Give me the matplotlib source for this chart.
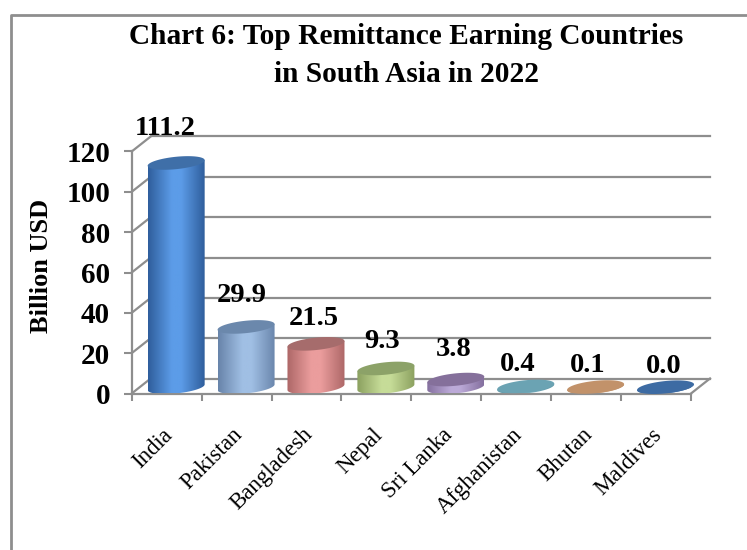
import numpy as np
import matplotlib
matplotlib.use("Agg")
import matplotlib.pyplot as plt
from matplotlib.colors import LinearSegmentedColormap
from matplotlib.lines import Line2D
from matplotlib.patches import Polygon
from matplotlib.transforms import ScaledTranslation

plt.rcParams['font.family'] = ['Liberation Serif', 'DejaVu Serif']

countries = ["India", "Pakistan", "Bangladesh", "Nepal", "Sri Lanka", "Afghanistan", "Bhutan", "Maldives"]
remittances = [111.2, 29.9, 21.5, 9.3, 3.8, 0.4, 0.1, 0.0]
y_ticks = [0, 20, 40, 60, 80, 100, 120]
title_lines = ["Chart 6: Top Remittance Earning Countries", "in South Asia in 2022"]
y_title = "Billion USD"
edge_colors = ["#2f5e9c", "#6884aa", "#ad6767", "#8ba05f", "#85709f", "#5f98a8", "#b98a62", "#376299"]
mid_colors = ["#5c9ce8", "#a0bfe4", "#eb9d9d", "#c6dc98", "#bcaad8", "#75adbd", "#cf9f78", "#4174b0"]
top_colors = ["#3f6fa8", "#6b88ac", "#a66c6c", "#8ca268", "#85709b", "#6ba3b3", "#c2926a", "#3d6ba3"]
# label shift in pixels from the default spot above each bar
label_dx = [-11, -4, -2, -4, -2, -8, -8, -2]
label_dy = [12, 9, 3, 5, 8, 0, 0, -1]

W, H, DPI = 747, 550, 100
AX_L, AX_R, AX_B, AX_T = 131.7, 691.0, 393.5, 151.5   # pixel frame of the front plane
DEPTH_X, DEPTH_Y = 19.0, 15.0
BAR_W_PX, ELL_B_PX, ELL_SHEAR_PX = 57.0, 6.2, 2.8
GREY = "#8e8e8e"

fig = plt.figure(figsize=(W / DPI, H / DPI), dpi=DPI, facecolor="white")
ax = fig.add_axes([AX_L / W, 1 - AX_B / H, (AX_R - AX_L) / W, (AX_B - AX_T) / H])
ax.set_xlim(-0.5, len(countries) - 0.5)
ax.set_ylim(0, 120)
ax.patch.set_alpha(0)

px_x = (AX_R - AX_L) / len(countries)   # pixels per category
px_y = (AX_B - AX_T) / 120              # pixels per billion
dx, dy = DEPTH_X / px_x, DEPTH_Y / px_y

# page border
fig.add_artist(Line2D([11 / W, 11 / W, 1], [0, 1 - 14.5 / H, 1 - 14.5 / H], color=GREY, lw=2.0))

# walls
for t in y_ticks:
    ax.plot([-0.5, -0.5 + dx], [t, t + dy], color=GREY, lw=1.6, clip_on=False, zorder=1)
    ax.plot([-0.5 + dx, len(countries) - 0.5 + dx], [t + dy, t + dy], color=GREY, lw=1.6, clip_on=False, zorder=1)
ax.plot([len(countries) - 0.5, len(countries) - 0.5 + dx], [0, dy], color=GREY, lw=1.6, clip_on=False, zorder=1)

# axes
for s in ("top", "right"):
    ax.spines[s].set_visible(False)
for s in ("left", "bottom"):
    ax.spines[s].set_color(GREY)
    ax.spines[s].set_linewidth(1.6)
    ax.spines[s].set_zorder(2)
ax.set_yticks(y_ticks)
ax.set_yticklabels([str(t) for t in y_ticks], fontsize=21, fontweight="bold")
ax.tick_params(axis="y", direction="out", length=5.5, width=1.5, color=GREY, pad=10)
ax.set_xticks(np.arange(len(countries)))
ax.set_xticklabels(countries, rotation=45, ha="right", rotation_mode="anchor", fontsize=16.5)
ax.tick_params(axis="x", which="major", length=0, pad=22)
shift = ScaledTranslation(-4.5 / DPI, 0, fig.dpi_scale_trans)
for lab in ax.get_xticklabels():
    lab.set_transform(lab.get_transform() + shift)
ax.set_xticks(np.arange(len(countries) + 1) - 0.5, minor=True)
ax.tick_params(axis="x", which="minor", direction="out", length=5, width=1.5, color=GREY)

# cylinders
a = BAR_W_PX / 2 / px_x
b = ELL_B_PX / px_y
shear = ELL_SHEAR_PX / px_y
t_param = np.linspace(0, 2 * np.pi, 121)

def ellipse(cx, cy):
    return np.column_stack([cx + a * np.cos(t_param),
                            cy + b * np.sin(t_param) + shear * np.cos(t_param)])

for i, (v, e, m, tc) in enumerate(zip(remittances, edge_colors, mid_colors, top_colors)):
    cx = i + dx / 2
    y0 = dy / 2 - 0.6
    y1 = y0 + v
    half = t_param[:61]
    lower = np.column_stack([cx + a * np.cos(half), y0 - b * np.sin(half) + shear * np.cos(half)])
    upper = np.column_stack([cx + a * np.cos(half[::-1]), y1 + shear * np.cos(half[::-1])])
    body = np.vstack([lower, upper, lower[:1]])
    cmap = LinearSegmentedColormap.from_list("c", [(0, e), (0.42, m), (0.58, m), (1, e)], N=128)
    grad = np.linspace(0, 1, 128)[None, :]
    im = ax.imshow(grad, cmap=cmap, aspect="auto", zorder=3,
                   extent=[cx - a, cx + a, y0 - 2 * b, y1 + 2 * b])
    clip = Polygon(body, closed=True, transform=ax.transData, facecolor="none", edgecolor="none")
    clip.set_clip_on(False)
    ax.add_patch(clip)
    im.set_clip_path(clip)
    ax.add_patch(Polygon(ellipse(cx, y1), closed=True, facecolor=tc, edgecolor="none",
                         zorder=4, clip_on=False))
    ax.annotate(f"{v:.1f}", (cx, y1), xytext=(label_dx[i] * 72 / DPI, (22 + label_dy[i]) * 72 / DPI),
                textcoords="offset points", ha="center", va="center",
                fontsize=20.5, fontweight="bold", annotation_clip=False, zorder=5)

ax.set_xlim(-0.5, len(countries) - 0.5)
ax.set_ylim(0, 120)

fig.text(406 / W, 1 - 37 / H, title_lines[0], ha="center", va="center", fontsize=21.2, fontweight="bold")
fig.text(406 / W, 1 - 74 / H, title_lines[1], ha="center", va="center", fontsize=21.2, fontweight="bold")
fig.text(41 / W, 1 - 266 / H, y_title, rotation=90, ha="center", va="center", fontsize=19, fontweight="bold")

fig.savefig("out.png", dpi=DPI, facecolor="white")
